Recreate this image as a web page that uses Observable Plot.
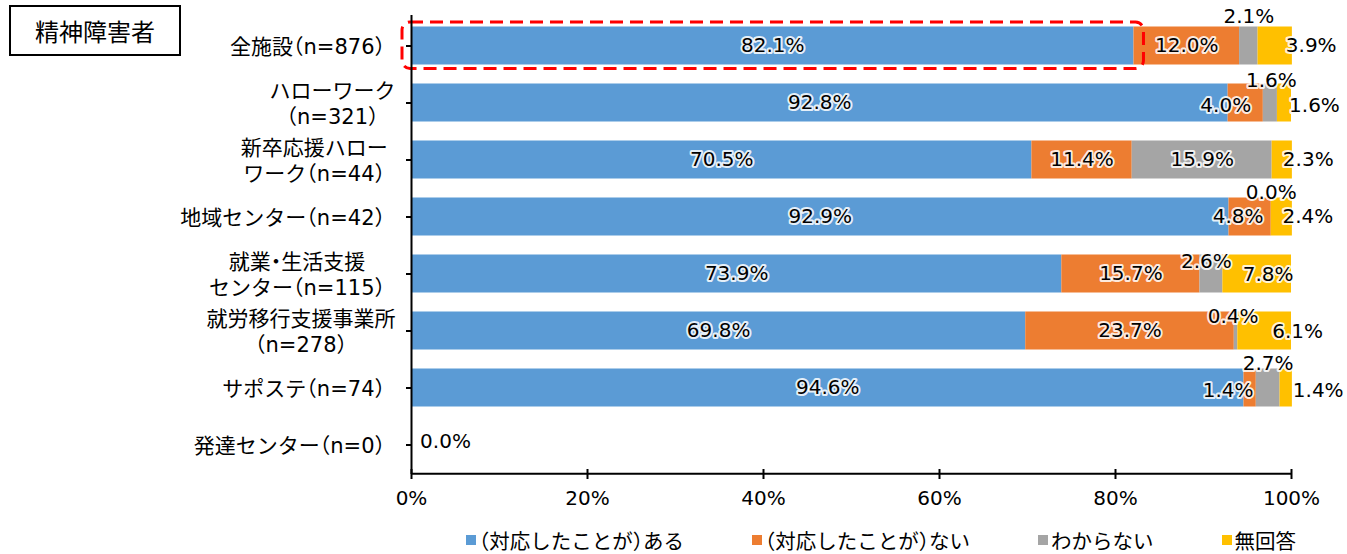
<!DOCTYPE html>
<html lang="ja">
<head>
<meta charset="utf-8">
<script src="https://cdn.jsdelivr.net/npm/d3@7"></script>
<script src="https://cdn.jsdelivr.net/npm/@observablehq/plot@0.6"></script>
<style>
  html, body { margin: 0; padding: 0; background: #fff; }
  #wrap { position: relative; width: 1347px; height: 554px; overflow: hidden; background: #fff; }
  #chart { position: absolute; left: 0; top: 0; }
  #chart svg text { font-feature-settings: "halt"; }
  #title {
    position: absolute; left: 9px; top: 5px; width: 172px; height: 51px;
    box-sizing: border-box; border: 2px solid #000; background: #fff;
    display: flex; align-items: center; justify-content: center;
    font: 24px "Noto Sans CJK JP", sans-serif; color: #000;
  }
  #legend {
    position: absolute; left: 466px; top: 528.5px;
    display: flex; gap: 68px;
    font: 20.5px "Noto Sans CJK JP", sans-serif; line-height: 22px; color: #000;
    font-feature-settings: "halt";
  }
  #legend .item { display: flex; align-items: center; white-space: nowrap; }
  #legend .sw { width: 10px; height: 10px; margin-right: 3px; flex: none; }
  #measure { position: absolute; left: 0; top: 0; visibility: hidden; white-space: pre; font-feature-settings: "halt"; }
</style>
</head>
<body>
<div id="wrap">
  <div id="chart"></div>
  <div id="title">精神障害者</div>
  <div id="legend"></div>
</div>
<span id="measure"></span>
<script>
// Facilities (rows, top to bottom) and response categories
const categories = [
  "全施設（n=876）",
  "ハローワーク\n（n=321）",
  "新卒応援ハロー\nワーク（n=44）",
  "地域センター（n=42）",
  "就業・生活支援\nセンター（n=115）",
  "就労移行支援事業所\n（n=278）",
  "サポステ（n=74）",
  "発達センター（n=0）"
];
const seriesNames = ["（対応したことが）ある", "（対応したことが）ない", "わからない", "無回答"];

// Shares in percent, one value per facility (null = no segment)
const aru       = [82.1, 92.8, 70.5, 92.9, 73.9, 69.8, 94.6, 0.0];
const nai       = [12.0,  4.0, 11.4,  4.8, 15.7, 23.7,  1.4, null];
const wakaranai = [ 2.1,  1.6, 15.9,  0.0,  2.6,  0.4,  2.7, null];
const mukaitou  = [ 3.9,  1.6,  2.3,  2.4,  7.8,  6.1,  1.4, null];

const xTicks = [0, 20, 40, 60, 80, 100];
const colors = ["#5B9BD5", "#ED7D31", "#A5A5A5", "#FFC000"];

// Layout
const W = 1347, H = 520, mt = 15, mb = 46, ml = 411, mr = 56;
const frameW = W - ml - mr, frameH = H - mt - mb;
const band = frameH / categories.length;
const barInset = 9.5;
const latin = "'DejaVu Sans', 'Noto Sans CJK JP', sans-serif";

// Long-format rows with stacked extents
const seriesValues = [aru, nai, wakaranai, mukaitou];
const rows = [];
categories.forEach((c, i) => {
  let start = 0;
  seriesNames.forEach((s, k) => {
    const v = seriesValues[k][i];
    if (v == null) return;
    rows.push({category: c, series: s, value: v, row: i, k, mid: start + v / 2});
    start += v;
  });
});

// Nudges [dx, dy] for labels of thin segments, keyed "row|series"
const nudge = {
  "0|2": [0, -29], "0|3": [36, 0],
  "1|1": [-20, 3], "1|2": [1, -22], "1|3": [30, 3],
  "2|3": [26, 0],
  "3|1": [-12, 0], "3|2": [0, -24], "3|3": [26, 0],
  "4|2": [-5, -12], "4|3": [11, 1],
  "5|2": [-3, -14], "5|3": [33, 1],
  "6|1": [-22, 3], "6|2": [0, -24], "6|3": [32, 3],
  "7|0": [34, -3]
};

const valueLabels = rows.map(d => {
  const [dx, dy] = nudge[`${d.row}|${d.k}`] || [0, 0];
  return Plot.text([d], {
    x: "mid", y: "category", text: d => d.value.toFixed(1) + "%",
    dx, dy, fontSize: 20, fill: "#000",
    stroke: "white", strokeWidth: 4, strokeOpacity: 0.85, strokeLinejoin: "round"
  });
});

// Category labels: block right-aligned to the axis, lines centred within the block
const catFont = 21;
const meas = document.getElementById("measure");
meas.style.font = `${catFont}px ${latin}`;
const lineWidth = line => { meas.textContent = line; return meas.getBoundingClientRect().width; };
const labelRight = 395;
const categoryLabels = categories.map(c => {
  const w = d3.max(c.split("\n"), lineWidth);
  const center = labelRight - w / 2;
  return Plot.text([c], {
    y: d => d, text: d => d, frameAnchor: "left", textAnchor: "middle",
    dx: center - ml, fontSize: catFont, lineHeight: 26 / catFont, fill: "#000"
  });
});
meas.remove();

const chart = Plot.plot({
  width: W, height: H,
  marginTop: mt, marginBottom: mb, marginLeft: ml, marginRight: mr,
  style: {fontFamily: latin, fontSize: "20px", background: "transparent", color: "#000"},
  x: {domain: [0, 100], axis: null, label: null},
  y: {domain: categories, padding: 0, axis: null, label: null},
  color: {domain: seriesNames, range: colors},
  marks: [
    Plot.barX(rows, Plot.stackX({
      x: "value", y: "category", fill: "series", order: seriesNames,
      insetTop: barInset, insetBottom: barInset
    })),
    // dashed highlight around the all-facility share
    Plot.barX([{category: categories[0], v: aru[0]}], {
      x1: 0, x2: "v", y: "category", fill: "none",
      stroke: "#FF0000", strokeWidth: 3, strokeDasharray: "13,7", rx: 8,
      insetLeft: -9, insetRight: -10, insetTop: 5, insetBottom: 5.4
    }),
    // axes
    Plot.ruleX([0], {stroke: "#000", strokeWidth: 2}),
    Plot.ruleY([categories[categories.length - 1]], {dy: band / 2, stroke: "#000", strokeWidth: 2}),
    Plot.ruleX(xTicks, {x: d => d, insetTop: frameH - 5, insetBottom: -5, stroke: "#000", strokeWidth: 2}),
    Plot.ruleY(categories, {y: d => d, insetLeft: -5, insetRight: frameW, stroke: "#000", strokeWidth: 2}),
    Plot.axisX({ticks: xTicks, tickFormat: d => d + "%", tickSize: 0, tickPadding: 16, fontSize: 20, fill: "#000", label: null}),
    ...categoryLabels,
    ...valueLabels
  ]
});
document.getElementById("chart").appendChild(chart);

// Legend
const legend = document.getElementById("legend");
seriesNames.forEach((s, k) => {
  const item = document.createElement("div");
  item.className = "item";
  const sw = document.createElement("span");
  sw.className = "sw";
  sw.style.background = colors[k];
  item.appendChild(sw);
  item.appendChild(document.createTextNode(s));
  legend.appendChild(item);
});
</script>
</body>
</html>
